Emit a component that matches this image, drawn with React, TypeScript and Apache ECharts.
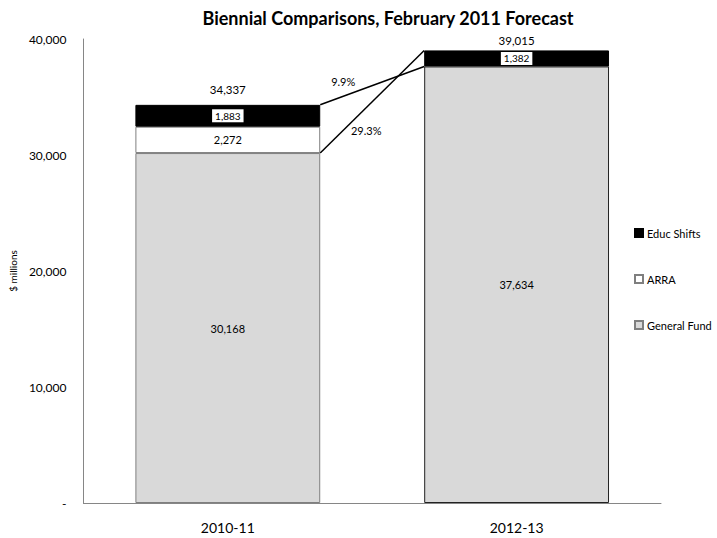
import React, { useEffect, useRef } from "react";
import * as echarts from "echarts";

const categories = ["2010-11", "2012-13"];
const generalFund = [30168, 37634];
const arra = [2272, 0];
const educShifts = [1883, 1382];
const totals = [34337, 39015];
const growthLabels = ["9.9%", "29.3%"];
const yTicks = { min: 0, max: 40000, interval: 10000 };

const FONT = "Lato, 'Noto Sans', sans-serif";
const fmt = (v: number) => (v === 0 ? "-" : v.toLocaleString("en-US"));
const BAR_FRAC = 0.64;
const growthLabelOffsets = [
  [23, -23],
  [46, -23],
];
const totalLabelRise = [15, 10];

export default function App() {
  const ref = useRef<HTMLDivElement>(null);
  useEffect(() => {
    if (!ref.current) return;
    const chart = echarts.init(ref.current, undefined, { renderer: "svg" });
    const connectors = [
      [0, totals[0], 1, generalFund[1]],
      [0, generalFund[0], 1, totals[1]],
    ];
    chart.setOption({
      animation: false,
      backgroundColor: "#fff",
      title: {
        text: "Biennial Comparisons, February 2011 Forecast",
        left: 383,
        top: 4,
        textAlign: "center",
        textStyle: { fontFamily: FONT, fontWeight: "bold", fontSize: 18, color: "#000" },
      },
      legend: {
        orient: "vertical",
        left: 634,
        top: 227,
        padding: 0,
        itemWidth: 8,
        itemHeight: 8,
        itemGap: 34,
        icon: "rect",
        data: ["Educ Shifts", "ARRA", "General Fund"],
        textStyle: { fontFamily: FONT, fontSize: 11, color: "#000", lineHeight: 12, padding: [0, 0, 0, -1] },
      },
      grid: { left: 79, right: 56, top: 39, bottom: 35, containLabel: false },
      xAxis: {
        type: "category",
        data: categories,
        axisTick: { show: false },
        axisLine: { lineStyle: { color: "#868686" } },
        axisLabel: { fontFamily: FONT, fontSize: 14, color: "#000", margin: 17 },
      },
      yAxis: {
        type: "value",
        min: yTicks.min,
        max: yTicks.max,
        interval: yTicks.interval,
        name: "$ millions",
        nameLocation: "middle",
        nameGap: 57,
        nameTextStyle: { fontFamily: FONT, fontSize: 10, color: "#000" },
        splitLine: { show: false },
        axisTick: { show: false },
        axisLine: { show: true, lineStyle: { color: "#868686" } },
        axisLabel: { fontFamily: FONT, fontSize: 12, color: "#000", margin: 17, formatter: fmt },
      },
      series: [
        {
          name: "General Fund",
          type: "bar",
          stack: "t",
          barWidth: BAR_FRAC * 100 + "%",
          data: generalFund.map((v, i) => ({
            value: v,
            itemStyle: { borderColor: i === 0 ? "#7f7f7f" : "#222" },
          })),
          itemStyle: { color: "#d9d9d9", borderColor: "#7f7f7f", borderWidth: 1 },
          label: {
            show: true,
            position: "inside",
            fontFamily: FONT,
            fontSize: 11,
            color: "#000",
            formatter: (p: any) => fmt(p.value),
          },
        },
        {
          name: "ARRA",
          type: "bar",
          stack: "t",
          data: arra,
          itemStyle: { color: "#fff", borderColor: "#7f7f7f", borderWidth: 1 },
          label: {
            show: true,
            position: "inside",
            fontFamily: FONT,
            fontSize: 11,
            color: "#000",
            formatter: (p: any) => (p.value ? fmt(p.value) : ""),
          },
        },
        {
          name: "Educ Shifts",
          type: "bar",
          stack: "t",
          data: educShifts,
          itemStyle: { color: "#000", borderColor: "#000", borderWidth: 1 },
          label: {
            show: true,
            position: "inside",
            fontFamily: FONT,
            fontSize: 10,
            color: "#000",
            backgroundColor: "#fff",
            borderColor: "#000",
            borderWidth: 1,
            padding: [2, 3, 1, 3],
            formatter: (p: any) => fmt(p.value),
          },
        },
        {
          name: "Total",
          type: "custom",
          z: 5,
          encode: { x: 0, y: 1 },
          data: totals.map((v, i) => [i, v]),
          renderItem: (params: any, api: any) => {
            const i = params.dataIndex;
            const p = api.coord([api.value(0), api.value(1)]);
            return {
              type: "text",
              x: p[0],
              y: p[1] - totalLabelRise[i],
              style: {
                text: fmt(api.value(1)),
                align: "center",
                verticalAlign: "middle",
                fontSize: 11.5,
                fontFamily: FONT,
                fill: "#000",
              },
            };
          },
        },
        {
          name: "Growth",
          type: "custom",
          z: 6,
          encode: { x: 0, y: 1 },
          data: connectors,
          renderItem: (params: any, api: any) => {
            const i = params.dataIndex;
            const a = api.coord([api.value(0), api.value(1)]);
            const b = api.coord([api.value(2), api.value(3)]);
            const half = (api.size([1, 0])[0] * BAR_FRAC) / 2;
            const x0 = a[0] + half;
            const x1 = b[0] - half;
            const off = growthLabelOffsets[i];
            return {
              type: "group",
              children: [
                {
                  type: "line",
                  shape: { x1: x0, y1: a[1], x2: x1, y2: b[1] },
                  style: { stroke: "#000", lineWidth: 1.5 },
                },
                {
                  type: "text",
                  x: x0 + off[0],
                  y: a[1] + off[1],
                  style: {
                    text: growthLabels[i],
                    align: "center",
                    verticalAlign: "middle",
                    fontSize: 11,
                    fontFamily: FONT,
                    fill: "#000",
                  },
                },
              ],
            };
          },
        },
      ],
    });
    return () => chart.dispose();
  }, []);
  return (
    <div
      ref={ref}
      style={{ position: "fixed", left: 0, top: 0, width: 717, height: 538, background: "#fff" }}
    />
  );
}
